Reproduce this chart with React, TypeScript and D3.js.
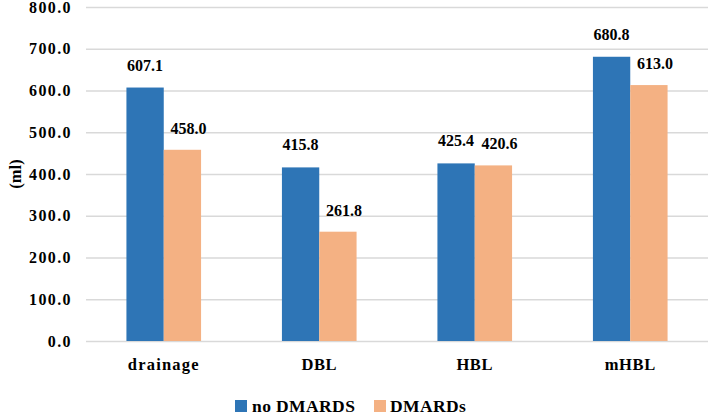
import { useRef, useEffect } from "react";
import { scaleBand, scaleLinear, select, axisLeft } from "d3";

const categories = ["drainage", "DBL", "HBL", "mHBL"];
const seriesNames = ["no DMARDS", "DMARDs"];
const noDmards = [607.1, 415.8, 425.4, 680.8];
const dmards = [458.0, 261.8, 420.6, 613.0];
const yTicks = [0, 100, 200, 300, 400, 500, 600, 700, 800];

const colors = ["#2E75B6", "#F4B183"];
const font = "'Liberation Serif', 'Times New Roman', serif";

function AxisLeft({ scale, width }: { scale: any; width: number }) {
    const ref = useRef<SVGGElement>(null);
    useEffect(() => {
        if (ref.current) {
            const g = select(ref.current);
            g.call(
                axisLeft(scale)
                    .tickValues(yTicks)
                    .tickFormat((d: any) => Number(d).toFixed(1))
                    .tickSize(-width)
                    .tickPadding(14)
            );
            g.select(".domain").remove();
            g.selectAll(".tick line").attr("stroke", "#D9D9D9").attr("stroke-width", 1.5);
            g.selectAll(".tick text")
                .attr("font-family", font)
                .attr("font-weight", "bold")
                .attr("font-size", 16)
                .attr("letter-spacing", 1.4)
                .attr("fill", "#000");
        }
    }, [scale, width]);
    return <g ref={ref} />;
}

export default function App() {
    const W = 709;
    const H = 416;
    const left = 86;
    const right = 708;
    const top = 7;
    const bottom = 341;

    const x = scaleBand().domain(categories).range([left, right]).paddingInner(0.52).paddingOuter(0.26);
    const x1 = scaleBand().domain(seriesNames).range([0, x.bandwidth()]);
    const y = scaleLinear().domain([0, 800]).range([bottom, top]);
    const series = [noDmards, dmards];

    return (
        <svg width={W} height={H} style={{ position: "absolute", left: 0, top: 0 }}>
            <rect width={W} height={H} fill="#fff" />
            <g transform={`translate(${left},0)`}>
                <AxisLeft scale={y} width={right - left} />
            </g>
            {series.map((vals, si) =>
                vals.map((v, ci) => {
                    const bx = (x(categories[ci]) ?? 0) + (x1(seriesNames[si]) ?? 0);
                    return (
                        <g key={`${si}-${ci}`}>
                            <rect
                                x={bx}
                                y={y(v)}
                                width={x1.bandwidth()}
                                height={y(0) - y(v)}
                                fill={colors[si]}
                            />
                            <text
                                x={bx + x1.bandwidth() / 2 + (si === 1 ? 6 : 0)}
                                y={y(v) - (si === 1 ? 16 : 17)}
                                textAnchor="middle"
                                fontFamily={font}
                                fontWeight="bold"
                                fontSize={16}
                            >
                                {v.toFixed(1)}
                            </text>
                        </g>
                    );
                })
            )}
            {categories.map((c) => (
                <text
                    key={c}
                    x={(x(c) ?? 0) + x.bandwidth() / 2}
                    y={370}
                    textAnchor="middle"
                    fontFamily={font}
                    fontWeight="bold"
                    fontSize={16.5}
                    letterSpacing={c === "drainage" ? 1.2 : 0.6}
                >
                    {c}
                </text>
            ))}
            <text
                transform={`translate(21,${(top + bottom) / 2}) rotate(-90)`}
                textAnchor="middle"
                fontFamily={font}
                fontWeight="bold"
                fontSize={16.5}
            >
                (ml)
            </text>
            <g transform="translate(235,400)">
                <rect x={0} y={0} width={12} height={12} fill={colors[0]} />
                <text x={17} y={12} fontFamily={font} fontWeight="bold" fontSize={17.5} letterSpacing={0.4}>
                    {seriesNames[0]}
                </text>
                <rect x={139} y={0} width={12} height={12} fill={colors[1]} />
                <text x={155} y={12} fontFamily={font} fontWeight="bold" fontSize={17.5} letterSpacing={0.4}>
                    {seriesNames[1]}
                </text>
            </g>
        </svg>
    );
}
